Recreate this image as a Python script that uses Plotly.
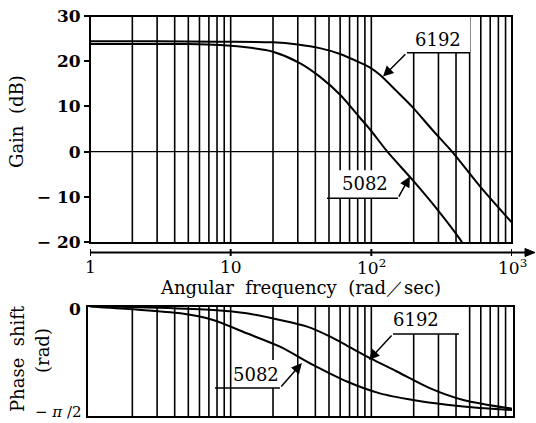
import math
import plotly.graph_objects as go

W, H = 536, 423

# ---------------- data ----------------
gain_freq_6192 = [1, 3, 8, 20, 30, 43, 60, 83, 98, 115, 150, 197, 270, 380, 590, 1000]
gain_db_6192 = [24.4, 24.4, 24.3, 24.2, 23.7, 22.9, 21.6, 19.7, 18.6, 17.0, 13.5, 9.8, 4.9, -0.2, -7.6, -15.7]

gain_freq_5082 = [1, 5, 8.4, 14.4, 20, 31, 43, 60, 83, 98, 130, 197, 293, 425, 450]
gain_db_5082 = [23.8, 23.8, 23.6, 22.9, 22.1, 19.6, 16.6, 12.6, 7.5, 4.9, 0.0, -6.3, -12.7, -19.3, -20.5]

phase_freq_6192 = [1, 3, 7.5, 13, 22.4, 35, 50.6, 67, 98, 152, 260, 450, 1000]
phase_rad_6192 = [0.0, -0.024, -0.057, -0.104, -0.198, -0.292, -0.43, -0.56, -0.738, -0.927, -1.162, -1.330, -1.453]

phase_freq_5082 = [1, 2, 4.4, 7.5, 13, 22.4, 38.5, 67, 115, 198, 344, 590, 1000]
phase_rad_5082 = [-0.008, -0.047, -0.104, -0.198, -0.386, -0.576, -0.833, -1.068, -1.236, -1.330, -1.398, -1.445, -1.472]

grid_freqs = [2, 3, 4, 5, 6, 7, 8, 9, 10, 20, 30, 40, 50, 60, 70, 80, 90, 100,
              200, 300, 400, 500, 600, 700, 800, 900]

gain_ticks = [30, 20, 10, 0, -10, -20]
gain_tick_text = ["30", "20", "10", "0", "\u2212 10", "\u2212 20"]
freq_ticks = [1, 10, 100, 1000]
freq_tick_text = ["1", "10", "10<sup>2</sup>", "10<sup>3</sup>"]
phase_ticks = [0, -math.pi / 2]
phase_tick_text = ["<b>0</b>", "\u2212 <i>\u03c0</i> /2"]

# label callouts: text, text position, arrow head, arrow tail, leader end, white box
gain_labels = [
    dict(text="6192", tx=298, ty=24.7, hx=121, hy=16.6, sx=179, sy=21.85, ex=503,
         box=(179, 503, 21.85, 30)),
    dict(text="5082", tx=90, ty=-7.0, hx=188, hy=-5.5, sx=154.7, sy=-10.3, ex=48.4,
         box=(58, 150, -10.3, -4.1)),
]
phase_labels = [
    dict(text="6192", tx=207.7, ty=-0.198, hx=96.2, hy=-0.764, sx=142.6, sy=-0.396, ex=420,
         box=(142.6, 420, -0.396, 0)),
    dict(text="5082", tx=15.1, ty=-0.976, hx=32.1, hy=-0.807, sx=22.4, sy=-1.161, ex=7.74,
         box=(10.6, 22.4, -1.161, -0.764)),
]

FONT = "DejaVu Serif"
line_style = dict(color="black", width=2, shape="spline", smoothing=0.8)

fig = go.Figure()
fig.add_trace(go.Scatter(x=gain_freq_6192, y=gain_db_6192, mode="lines", line=line_style,
                         xaxis="x", yaxis="y", hoverinfo="skip"))
fig.add_trace(go.Scatter(x=gain_freq_5082, y=gain_db_5082, mode="lines", line=line_style,
                         xaxis="x", yaxis="y", hoverinfo="skip"))
fig.add_trace(go.Scatter(x=phase_freq_6192, y=phase_rad_6192, mode="lines", line=line_style,
                         xaxis="x2", yaxis="y2", hoverinfo="skip"))
fig.add_trace(go.Scatter(x=phase_freq_5082, y=phase_rad_5082, mode="lines", line=line_style,
                         xaxis="x2", yaxis="y2", hoverinfo="skip"))

shapes = []
for xr, yr in (("x", "y"), ("x2", "y2")):
    for f in grid_freqs:
        shapes.append(dict(type="line", xref=xr, yref=yr + " domain", x0=f, x1=f, y0=0, y1=1,
                           line=dict(color="black", width=1.6), layer="below"))
# zero-dB line
shapes.append(dict(type="line", xref="x domain", yref="y", x0=0, x1=1, y0=0, y1=0,
                   line=dict(color="black", width=1.4), layer="below"))

annotations = []
for labels, xr, yr in ((gain_labels, "x", "y"), (phase_labels, "x2", "y2")):
    for lb in labels:
        x0, x1, y0, y1 = lb["box"]
        shapes.append(dict(type="rect", xref=xr, yref=yr, x0=x0, x1=x1, y0=y0, y1=y1,
                           fillcolor="white", line=dict(width=0), layer="below"))
        shapes.append(dict(type="line", xref=xr, yref=yr, x0=lb["sx"], x1=lb["ex"],
                           y0=lb["sy"], y1=lb["sy"], line=dict(color="black", width=1.5)))
        annotations.append(dict(xref=xr, yref=yr, x=math.log10(lb["tx"]), y=lb["ty"],
                                xanchor="center", yanchor="middle",
                                text=lb["text"], showarrow=False,
                                font=dict(family=FONT, size=18, color="black")))
        annotations.append(dict(xref=xr, yref=yr, x=math.log10(lb["hx"]), y=lb["hy"],
                                axref=xr, ayref=yr, ax=math.log10(lb["sx"]), ay=lb["sy"],
                                text="", showarrow=True, arrowhead=2, arrowsize=1.4,
                                arrowwidth=1.5, arrowcolor="black", standoff=0))
# frames
shapes.append(dict(type="rect", xref="x domain", yref="y domain", x0=0, x1=1, y0=0, y1=1,
                   line=dict(color="black", width=2)))
shapes.append(dict(type="rect", xref="x2 domain", yref="y2 domain", x0=0, x1=1, y0=0, y1=1,
                   line=dict(color="black", width=2)))

# frequency axis line with arrow, drawn below the gain panel
ax_y = 1 - 252.5 / H
shapes.append(dict(type="line", xref="x domain", yref="paper", x0=0, x1=(528 - 90) / 422,
                   y0=ax_y, y1=ax_y, line=dict(color="black", width=2)))
shapes.append(dict(type="path", xref="paper", yref="paper",
                   path=(f"M {525 / W:.5f},{ax_y + 4 / H:.5f} L {535 / W:.5f},{ax_y:.5f} "
                         f"L {525 / W:.5f},{ax_y - 4 / H:.5f} Z"),
                   fillcolor="black", line=dict(color="black", width=1)))
for v in freq_ticks:
    shapes.append(dict(type="line", xref="x", yref="paper", x0=v, x1=v,
                       y0=ax_y - 3.5 / H, y1=ax_y + 3.5 / H, line=dict(color="black", width=2)))

# frequency tick labels under the arrowed axis
for v, t in zip(freq_ticks, freq_tick_text):
    annotations.append(dict(xref="x", yref="paper", x=math.log10(v), y=1 - 267 / H,
                            xanchor="center", yanchor="middle", text=t, showarrow=False,
                            font=dict(family=FONT, size=17, color="black")))
# phase tick labels
annotations.append(dict(xref="paper", yref="y2", x=83 / W, y=phase_ticks[0] - 0.04,
                        xanchor="right", yanchor="middle", text=phase_tick_text[0],
                        showarrow=False, font=dict(family=FONT, size=17, color="black")))
annotations.append(dict(xref="paper", yref="paper", x=84 / W, y=1 - 412 / H,
                        xanchor="right", yanchor="middle", text=phase_tick_text[1],
                        showarrow=False, font=dict(family=FONT, size=15, color="black")))

# axis titles
annotations.append(dict(xref="paper", yref="paper", x=300 / W, y=1 - 287 / H,
                        xanchor="center", yanchor="middle",
                        text="Angular\u00a0 frequency\u00a0 (rad\uff0fsec)", showarrow=False,
                        font=dict(family=FONT, size=18, color="black")))
annotations.append(dict(xref="paper", yref="paper", x=17 / W, y=1 - 122 / H,
                        xanchor="center", yanchor="middle",
                        text="Gain\u00a0 (dB)", textangle=-90, showarrow=False,
                        font=dict(family=FONT, size=18, color="black")))
annotations.append(dict(xref="paper", yref="paper", x=17 / W, y=1 - 359 / H,
                        xanchor="center", yanchor="middle",
                        text="Phase\u00a0 shift", textangle=-90, showarrow=False,
                        font=dict(family=FONT, size=18, color="black")))
annotations.append(dict(xref="paper", yref="paper", x=42 / W, y=1 - 351 / H,
                        xanchor="center", yanchor="middle",
                        text="(rad)", textangle=-90, showarrow=False,
                        font=dict(family=FONT, size=18, color="black")))

fig.update_layout(
    width=W, height=H, margin=dict(l=0, r=0, t=0, b=0, autoexpand=False),
    paper_bgcolor="white", plot_bgcolor="white", showlegend=False,
    font=dict(family=FONT, color="black", size=17),
    xaxis=dict(domain=[90 / W, 512 / W], type="log", range=[0, 3], anchor="y",
               visible=False, automargin=False),
    yaxis=dict(domain=[1 - 243 / H, 1 - 16 / H], range=[-20.2, 30], anchor="x",
               showline=False, showgrid=False, zeroline=False, ticks="outside", ticklen=5,
               tickwidth=1.5, tickcolor="black", tickmode="array", tickvals=gain_ticks,
               ticktext=gain_tick_text, automargin=False,
               tickfont=dict(family=FONT, size=17, weight="bold")),
    xaxis2=dict(domain=[87 / W, 514 / W], type="log", range=[-0.0213, 3.0142], anchor="y2",
                visible=False, automargin=False),
    yaxis2=dict(domain=[1 - 417 / H, 1 - 306 / H], range=[-math.pi / 2, 0], anchor="x2",
                visible=False, automargin=False),
    shapes=shapes, annotations=annotations,
)

fig.write_html(
    "out.html",
    config={"displayModeBar": False},
    post_script="document.body.style.margin='0';document.body.style.padding='0';"
                "document.documentElement.style.overflow='hidden';",
)
